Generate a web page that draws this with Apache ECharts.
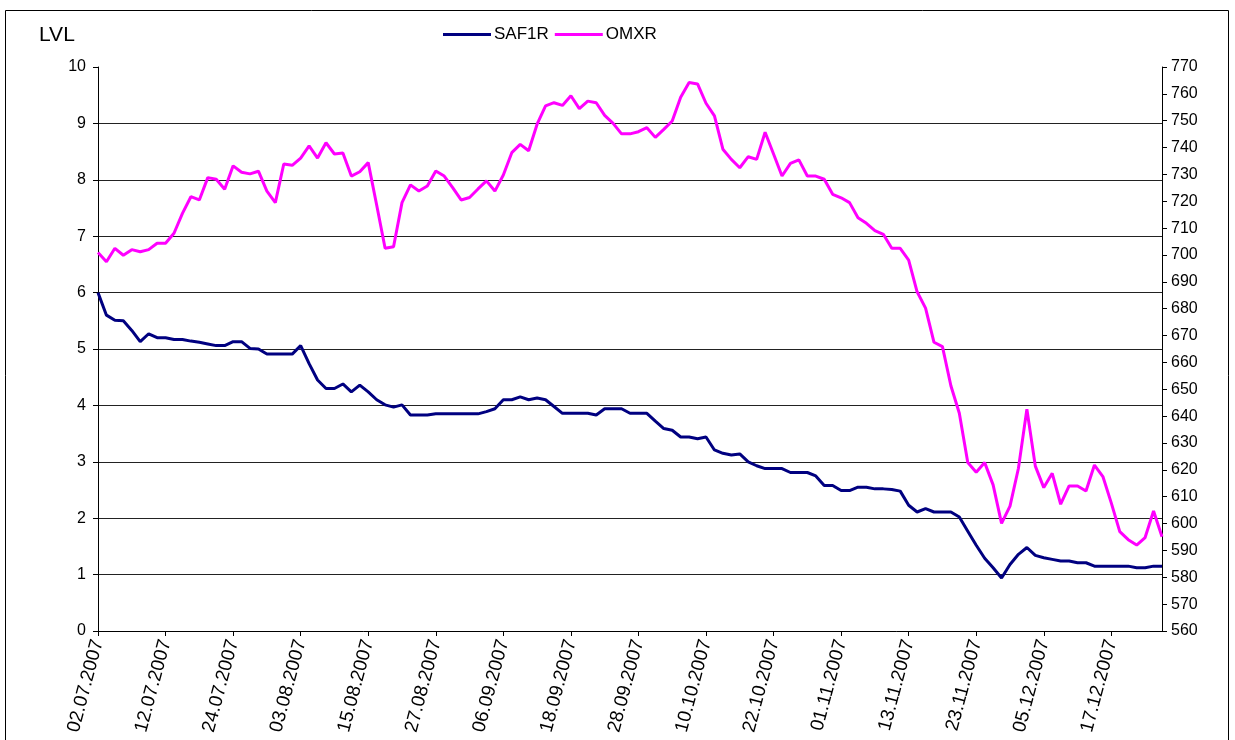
<!DOCTYPE html>
<html>
<head>
<meta charset="utf-8">
<script src="https://cdn.jsdelivr.net/npm/echarts@6/dist/echarts.min.js"></script>
<style>
html,body{margin:0;padding:0;background:#fff;}
#chart{width:1235px;height:740px;}
</style>
</head>
<body>
<div id="chart"></div>
<script>
const dates = [
"02.07.2007","03.07.2007","04.07.2007","05.07.2007","06.07.2007","09.07.2007","10.07.2007","11.07.2007","12.07.2007","13.07.2007",
"16.07.2007","17.07.2007","18.07.2007","19.07.2007","20.07.2007","23.07.2007","24.07.2007","25.07.2007","26.07.2007","27.07.2007",
"30.07.2007","31.07.2007",
"01.08.2007","02.08.2007","03.08.2007","06.08.2007","07.08.2007","08.08.2007","09.08.2007","10.08.2007","13.08.2007","14.08.2007",
"15.08.2007","16.08.2007","17.08.2007","20.08.2007","21.08.2007","22.08.2007","23.08.2007","24.08.2007","27.08.2007","28.08.2007",
"29.08.2007","30.08.2007","31.08.2007",
"03.09.2007","04.09.2007","05.09.2007","06.09.2007","07.09.2007","10.09.2007","11.09.2007","12.09.2007","13.09.2007","14.09.2007",
"17.09.2007","18.09.2007","19.09.2007","20.09.2007","21.09.2007","24.09.2007","25.09.2007","26.09.2007","27.09.2007","28.09.2007",
"01.10.2007","02.10.2007","03.10.2007","04.10.2007","05.10.2007","08.10.2007","09.10.2007","10.10.2007","11.10.2007","12.10.2007",
"15.10.2007","16.10.2007","17.10.2007","18.10.2007","19.10.2007","22.10.2007","23.10.2007","24.10.2007","25.10.2007","26.10.2007",
"29.10.2007","30.10.2007","31.10.2007",
"01.11.2007","02.11.2007","05.11.2007","06.11.2007","07.11.2007","08.11.2007","09.11.2007","12.11.2007","13.11.2007","14.11.2007",
"15.11.2007","16.11.2007","19.11.2007","20.11.2007","21.11.2007","22.11.2007","23.11.2007","26.11.2007","27.11.2007","28.11.2007",
"29.11.2007","30.11.2007",
"03.12.2007","04.12.2007","05.12.2007","06.12.2007","07.12.2007","10.12.2007","11.12.2007","12.12.2007","13.12.2007","14.12.2007",
"17.12.2007","18.12.2007","19.12.2007","20.12.2007","21.12.2007","27.12.2007","28.12.2007"
];

const saf1r = [
6.00,5.60,5.51,5.50,5.33,5.13,5.27,5.20,5.20,5.17,
5.17,5.14,5.12,5.09,5.06,5.06,5.13,5.13,5.01,5.00,
4.91,4.91,4.91,4.91,5.06,4.74,4.45,4.30,4.30,4.38,
4.24,4.36,4.24,4.10,4.01,3.97,4.01,3.83,3.83,3.83,
3.85,3.85,3.85,3.85,3.85,3.85,3.89,3.94,4.10,4.10,
4.15,4.10,4.13,4.10,3.98,3.86,3.86,3.86,3.86,3.83,
3.94,3.94,3.94,3.86,3.86,3.86,3.72,3.59,3.56,3.44,
3.44,3.41,3.44,3.21,3.15,3.12,3.14,3.00,2.93,2.88,
2.88,2.88,2.81,2.81,2.81,2.75,2.58,2.58,2.49,2.49,
2.55,2.55,2.52,2.52,2.51,2.48,2.23,2.11,2.17,2.11,
2.11,2.11,2.02,1.77,1.52,1.29,1.12,0.94,1.18,1.36,
1.48,1.34,1.30,1.27,1.24,1.24,1.21,1.21,1.15,1.15,
1.15,1.15,1.15,1.12,1.12,1.15,1.15
];

const omxr = [
700.9,697.5,702.5,699.9,702.0,701.2,702.0,704.4,704.4,708.1,
715.5,721.7,720.5,728.8,728.2,724.5,733.2,730.8,730.2,731.2,
723.8,719.5,733.9,733.4,736.1,740.6,736.1,741.8,737.6,738.0,
729.4,731.0,734.4,718.6,702.5,703.1,719.5,726.1,723.8,725.7,
731.3,729.4,725.1,720.5,721.4,724.6,727.6,723.8,729.8,738.1,
741.2,738.8,748.7,755.5,756.7,755.7,759.3,754.5,757.3,756.7,
752.0,749.0,745.1,745.1,745.9,747.4,743.8,746.8,749.9,758.7,
764.2,763.7,756.5,751.8,739.4,735.6,732.5,736.6,735.6,745.7,
737.6,729.4,734.1,735.4,729.4,729.4,728.2,722.6,721.3,719.5,
713.9,711.8,709.1,707.7,702.5,702.5,698.1,686.3,680.2,667.5,
665.9,651.3,641.1,622.7,619.1,622.7,614.4,600.1,606.5,620.6,
642.6,621.4,613.4,618.7,607.2,614.0,614.0,612.1,621.8,617.5,
607.6,597.0,594.0,592.0,594.8,604.7,595.1
];

const leftMin = 0, leftMax = 10, leftStep = 1;
const rightMin = 560, rightMax = 770, rightStep = 10;
const labelEvery = 8;

const font = "'Liberation Sans', Arial, sans-serif";
const chart = echarts.init(document.getElementById('chart'), null, {renderer: 'canvas'});

chart.setOption({
  animation: false,
  backgroundColor: '#fff',
  textStyle: {fontFamily: font},
  grid: {left: 98, right: 73, top: 67, bottom: 109, containLabel: false},
  legend: {
    left: 438, top: 21,
    icon: 'rect', itemWidth: 48, itemHeight: 3, itemGap: 6,
    textStyle: {fontFamily: font, fontSize: 17, color: '#000', padding: [0,0,0,-2]},
    data: ['SAF1R', 'OMXR']
  },
  graphic: [
    {type: 'rect', shape: {x: 5.5, y: 10.5, width: 1223, height: 760},
     style: {fill: 'none', stroke: '#000', lineWidth: 1}, silent: true, z: -1},
    {type: 'text', left: 39, top: 25,
     style: {text: 'LVL', font: "21px 'Liberation Sans', Arial, sans-serif", fill: '#000'}}
  ],
  xAxis: {
    type: 'category',
    data: dates,
    boundaryGap: false,
    axisLine: {show: true, lineStyle: {color: '#000', width: 1}},
    axisTick: {show: true, interval: labelEvery - 1, length: 5, lineStyle: {color: '#000'}},
    axisLabel: {interval: labelEvery - 1, rotate: 75, margin: 9,
      fontFamily: font, fontSize: 19, color: '#000'},
    splitLine: {show: false}
  },
  yAxis: [
    {
      type: 'value', min: leftMin, max: leftMax, interval: leftStep,
      position: 'left',
      axisLine: {show: true, lineStyle: {color: '#000', width: 1}},
      axisTick: {show: true, length: 5, lineStyle: {color: '#000'}},
      axisLabel: {margin: 12, fontFamily: font, fontSize: 16, color: '#000'},
      splitLine: {show: true, showMinLine: false, showMaxLine: false,
        lineStyle: {color: '#222', width: 1}}
    },
    {
      type: 'value', min: rightMin, max: rightMax, interval: rightStep,
      position: 'right',
      axisLine: {show: true, lineStyle: {color: '#000', width: 1}},
      axisTick: {show: true, length: 5, lineStyle: {color: '#000'}},
      axisLabel: {margin: 9, fontFamily: font, fontSize: 16, color: '#000'},
      splitLine: {show: false}
    }
  ],
  series: [
    {name: 'SAF1R', type: 'line', yAxisIndex: 0, data: saf1r,
     showSymbol: false, symbol: 'none', lineStyle: {color: '#000080', width: 3},
     itemStyle: {color: '#000080'}, z: 3},
    {name: 'OMXR', type: 'line', yAxisIndex: 1, data: omxr,
     showSymbol: false, symbol: 'none', lineStyle: {color: '#FF00FF', width: 3},
     itemStyle: {color: '#FF00FF'}, z: 2}
  ]
});
</script>
</body>
</html>
